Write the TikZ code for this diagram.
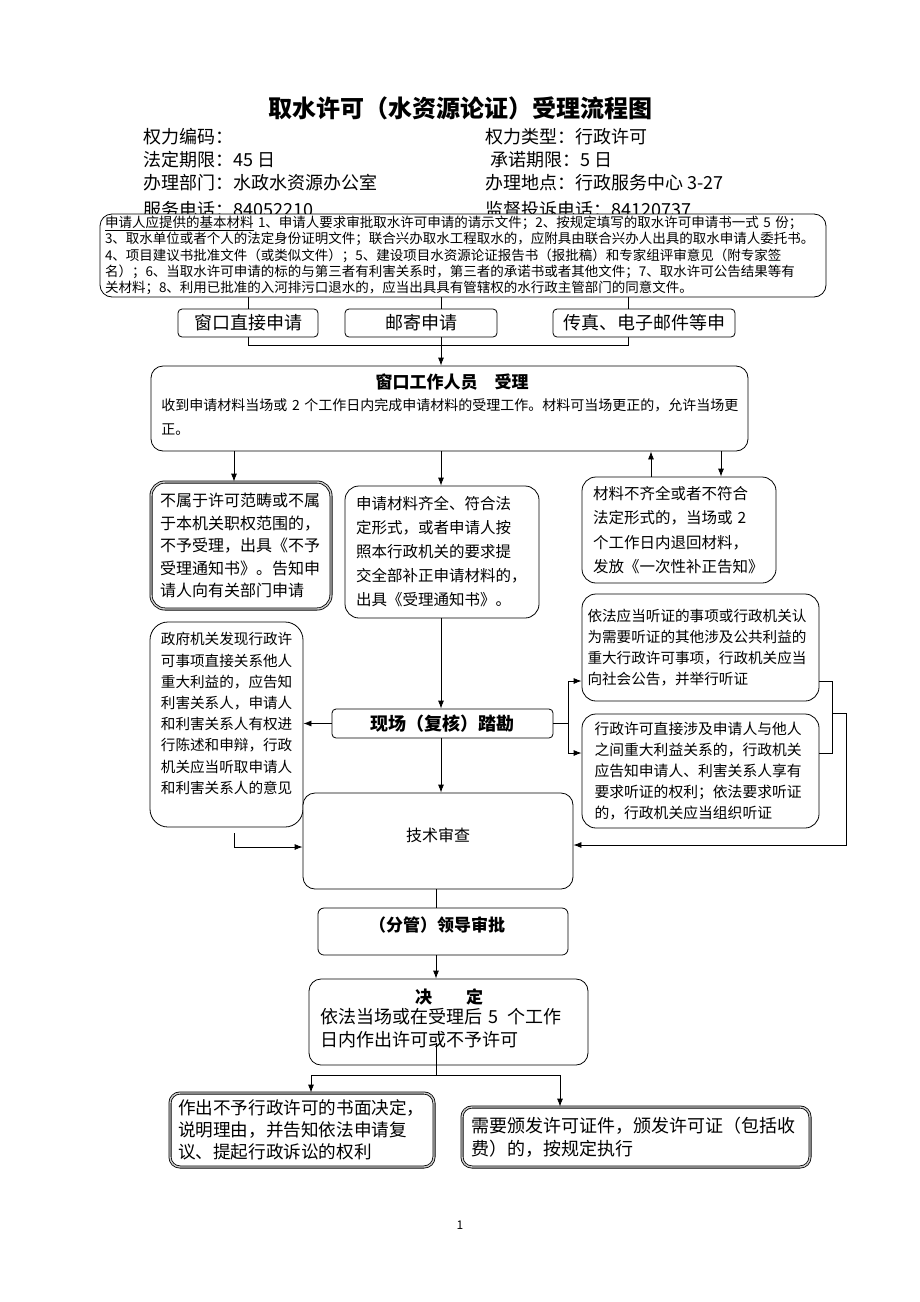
\documentclass[tikz,border=0pt]{standalone}
\usepackage{fontspec}
\setmainfont{Noto Sans CJK SC}
\XeTeXlinebreaklocale "zh"
\usetikzlibrary{positioning,arrows,arrows.meta}

\begin{document}
\begin{tikzpicture}[x=1pt,y=-1pt,line width=0.8pt,>={Latex[length=8pt,width=6pt]},
  rbox/.style={draw,rounded corners=10pt,inner sep=0pt,align=left,fill=white},
  sbox/.style={rbox,draw=black,double=gray!40,double distance=1.4pt},
  hdr/.style={anchor=west,inner sep=0pt,font=\fontsize{18}{20}\selectfont},
  fs/.style={font=\fontsize{#1}{#1}\selectfont}]
\useasboundingbox (0,0) rectangle (920,1302);

% title and header
\node[font=\fontsize{24}{28}\selectfont\bfseries] (title) at (460,108) {取水许可（水资源论证）受理流程图};
\node[hdr] (code) at (143,137) {权力编码：};
\node[hdr] (kind) at (485,137) {权力类型：行政许可};
\node[hdr] (legal) at (143,160) {法定期限：45 日};
\node[hdr] (promise) at (490,160) {承诺期限：5 日};
\node[hdr] (dept) at (143,183) {办理部门：水政水资源办公室};
\node[hdr] (place) at (485,183) {办理地点：行政服务中心 3-27};
\node[hdr] (tel) at (143,210) {服务电话：84052210};
\node[hdr] (comp) at (485,210) {监督投诉电话：84120737};

% materials
\node[rbox,rounded corners=12pt,minimum width=726,minimum height=83,text width=716,
  font=\fontsize{13.5}{16.2}\selectfont] (mat) at (463,255.5)
  {\underline{申请人应提供的基本材料} 1、申请人要求审批取水许可申请的请示文件；2、按规定填写的取水许可申请书一式 5 份；\\
   3、取水单位或者个人的法定身份证明文件；联合兴办取水工程取水的，应附具由联合兴办人出具的取水申请人委托书。\\
   4、项目建议书批准文件（或类似文件）；5、建设项目水资源论证报告书（报批稿）和专家组评审意见（附专家签\\
   名）；6、当取水许可申请的标的与第三者有利害关系时，第三者的承诺书或者其他文件；7、取水许可公告结果等有\\
   关材料；8、利用已批准的入河排污口退水的，应当出具具有管辖权的水行政主管部门的同意文件。};

% ways to apply
\node[rbox,rounded corners=4pt,minimum width=140,minimum height=28,fs=18] (apA) at (248,323) {窗口直接申请};
\node[rbox,rounded corners=4pt,minimum width=152,minimum height=28,fs=18] (apB) at (421,323) {邮寄申请};
\node[rbox,rounded corners=4pt,minimum width=182,minimum height=28,fs=18] (apC) at (644,323) {传真、电子邮件等申};

% acceptance
\node[rbox,rounded corners=12pt,minimum width=597,minimum height=85] (accept) at (449.5,408.5) {};
\node[font=\fontsize{17}{20}\selectfont\bfseries] (acctitle) at (452,382) {窗口工作人员\quad 受理};
\node[anchor=north west,inner sep=0pt,text width=585,align=left,font=\fontsize{14}{24}\selectfont] (accbody) at (161,398)
  {收到申请材料当场或 2 个工作日内完成申请材料的受理工作。材料可当场更正的，允许当场更\\正。};

\node[sbox,rounded corners=14pt,minimum width=180,minimum height=127,text width=162,
  font=\fontsize{16}{22.5}\selectfont] (reject) at (241,545.5)
  {不属于许可范畴或不属\\于本机关职权范围的，\\不予受理，出具《不予\\受理通知书》。告知申\\请人向有关部门申请};
\node[rbox,rounded corners=14pt,minimum width=194,minimum height=132,text width=172,
  font=\fontsize{15.5}{24}\selectfont] (complete) at (442,552)
  {申请材料齐全、符合法\\定形式，或者申请人按\\照本行政机关的要求提\\交全部补正申请材料的，\\出具《受理通知书》。};
\node[rbox,rounded corners=14pt,minimum width=194,minimum height=106,text width=172,
  font=\fontsize{15.5}{24.3}\selectfont] (ret) at (679,530)
  {材料不齐全或者不符合\\法定形式的，当场或 2\\个工作日内退回材料，\\发放《一次性补正告知》};

% hearings
\node[rbox,rounded corners=14pt,minimum width=237,minimum height=107,text width=226,
  font=\fontsize{14.6}{21}\selectfont] (hear1) at (700.5,647.5)
  {依法应当听证的事项或行政机关认\\为需要听证的其他涉及公共利益的\\重大行政许可事项，行政机关应当\\向社会公告，并举行听证};
\node[rbox,rounded corners=14pt,minimum width=237,minimum height=114,text width=212,
  font=\fontsize{14.8}{21}\selectfont] (hear2) at (700.5,771)
  {行政许可直接涉及申请人与他人\\之间重大利益关系的，行政机关\\应告知申请人、利害关系人享有\\要求听证的权利；依法要求听证\\的，行政机关应当组织听证};
\node[rbox,rounded corners=18pt,minimum width=153,minimum height=205] (gov) at (226.5,724.5) {};
\node[anchor=north west,inner sep=0pt,text width=134,align=left,font=\fontsize{14.6}{21.2}\selectfont] (govtxt) at (160.5,632)
  {政府机关发现行政许\\可事项直接关系他人\\重大利益的，应告知\\利害关系人，申请人\\和利害关系人有权进\\行陈述和申辩，行政\\机关应当听取申请人\\和利害关系人的意见};

% survey, review, approval
\node[rbox,rounded corners=4pt,minimum width=221,minimum height=29,font=\fontsize{18}{20}\selectfont\bfseries] (survey) at (442.5,723.5) {现场（复核）踏勘};
\node[rbox,rounded corners=12pt,minimum width=270,minimum height=96] (tech) at (438,841) {};
\node[fs=16] (techtxt) at (438,835) {技术审查};
\node[rbox,rounded corners=6pt,minimum width=250,minimum height=47] (lead) at (443,931.5) {};
\node[font=\fontsize{17}{20}\selectfont\bfseries] (leadtxt) at (437,925) {（分管）领导审批};

% decision
\node[rbox,rounded corners=12pt,minimum width=279,minimum height=86] (dec) at (448.5,1022) {};
\node[font=\fontsize{17}{20}\selectfont\bfseries] (dectitle) at (449,997) {决\qquad 定};
\node[anchor=north west,inner sep=0pt,text width=262,align=left,font=\fontsize{18}{23}\selectfont] (decbody) at (320,1008)
  {依法当场或在受理后 5 \,个工作\\日内作出许可或不予许可};
\node[sbox,rounded corners=10pt,minimum width=264,minimum height=74,text width=248,
  font=\fontsize{17.6}{22}\selectfont] (deny) at (302,1130)
  {作出不予行政许可的书面决定，\\说明理由，并告知依法申请复\\议、提起行政诉讼的权利};
\node[sbox,rounded corners=10pt,minimum width=348,minimum height=60,text width=330,
  font=\fontsize{18}{23}\selectfont] (issue) at (636,1137)
  {需要颁发许可证件，颁发许可证（包括收\\费）的，按规定执行};
\node[font=\fontsize{12}{14}\selectfont] (page) at (460,1225) {1};

% connectors
\coordinate (c1) at (248,345); \coordinate (c2) at (441,345); \coordinate (c3) at (628,345);
\draw (mat.south -| c1) -- (apA.north -| c1);
\draw (mat.south -| c2) -- (apB.north -| c2);
\draw (mat.south -| c3) -- (apC.north -| c3);
\draw (apA.south -| c1) -- (c1) -- (c3) -- (apC.south -| c3);
\draw (apB.south -| c2) -- (c2);
\draw[->] (c2) -- (accept.north -| c2);

\coordinate (xa) at (234,0); \coordinate (xc) at (651,0); \coordinate (xd) at (721,0);
\draw[->] (accept.south -| xa) -- (reject.north -| xa);
\draw[->] (accept.south -| c2) -- (complete.north -| c2);
\draw[->] (ret.north -| xc) -- (accept.south -| xc);
\draw[->] (accept.south -| xd) -- (ret.north -| xd);
\draw[->] (complete.south -| c2) -- (survey.north -| c2);
\draw[->] (survey.south -| c2) -- (tech.north -| c2);
\draw[->] (survey.west) -- (gov.east |- survey.west);

\coordinate (bt) at (568,681); \coordinate (bb) at (568,753);
\draw (survey.east) -- (bt |- survey.east);
\draw (bt) -- (bb);
\draw[->] (bt) -- (hear1.west |- bt);
\draw[->] (bb) -- (hear2.west |- bb);
\coordinate (rt) at (832,681); \coordinate (rb) at (832,753); \coordinate (rm) at (832,713);
\coordinate (ro) at (846,713); \coordinate (ro2) at (846,845);
\draw (hear1.east |- rt) -- (rt) -- (rb) -- (hear2.east |- rb);
\draw[->] (rm) -- (ro) -- (ro2) -- (tech.east |- ro2);
\coordinate (lt) at (234,833); \coordinate (lb) at (234,847);
\draw[->] (lt) -- (lb) -- (tech.west |- lb);

\coordinate (xm) at (436,0);
\draw (tech.south -| xm) -- (lead.north -| xm);
\draw[->] (lead.south -| xm) -- (dec.north -| xm);
\coordinate (split) at (436,1043); \coordinate (fork) at (436,1075);
\coordinate (fl) at (311,1075); \coordinate (fr) at (560,1075);
\draw (split) -- (fork);
\draw (fl) -- (fr);
\draw[->] (fl) -- (deny.north -| fl);
\draw[->] (fr) -- (issue.north -| fr);
\end{tikzpicture}
\end{document}
